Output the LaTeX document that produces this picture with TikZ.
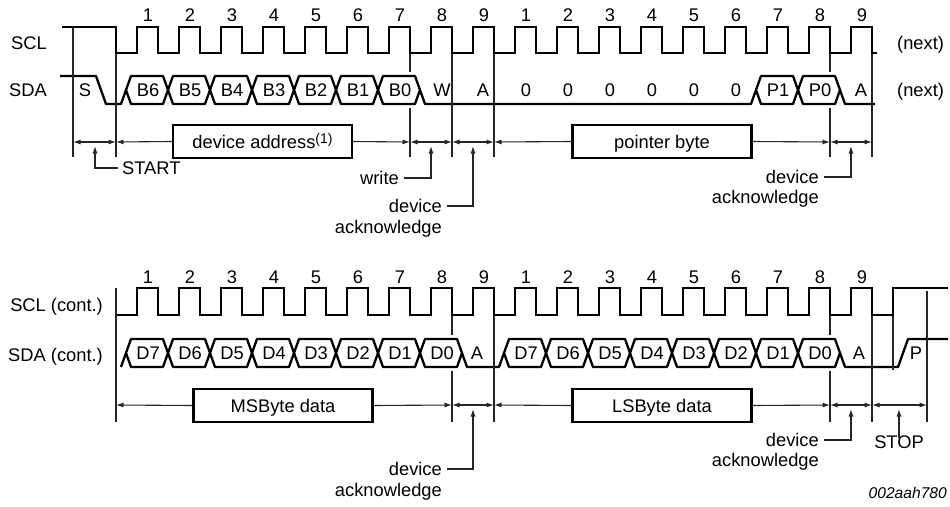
\documentclass[tikz,border=0pt]{standalone}
\usepackage{fontspec}
\setmainfont{Liberation Sans}
\usetikzlibrary{arrows.meta}
\begin{document}
\begin{tikzpicture}[x=1pt,y=-1pt,
  sig/.style={line width=2.3pt,line join=round},
  sclsig/.style={line width=2.3pt,line join=miter},
  tick/.style={line width=1.1pt,draw=black!85},
  arr/.style={line width=1.1pt,draw=black!85,-{Latex[length=7.5pt,width=5pt]}},
  darr/.style={line width=1.1pt,draw=black!85,{Latex[length=7.5pt,width=5pt]}-{Latex[length=7.5pt,width=5pt]}},
  lbl/.style={inner sep=0pt,text height=13pt,text depth=0pt,font=\fontsize{18.3}{22}\selectfont},
  boxn/.style={draw,line width=2.4pt,minimum width=179pt,minimum height=33pt,inner sep=0pt,
    text height=13pt,text depth=0pt,font=\fontsize{18.3}{22}\selectfont}
]
\useasboundingbox (0,0) rectangle (950,506);

% ---------- signal names ----------
\node[lbl,anchor=east] (lscl) at (47,43) {SCL};
\node[lbl,anchor=east] (lsda) at (47,90) {SDA};
\node[lbl,anchor=west] (nx1) at (897,43) {(next)};
\node[lbl,anchor=west] (nx2) at (897,90) {(next)};
\node[lbl,anchor=east] (lscl2) at (103,305) {SCL (cont.)};
\node[lbl,anchor=east] (lsda2) at (103,355) {SDA (cont.)};

% ---------- clock numbers ----------
\foreach \k in {0,...,17}{
  \pgfmathtruncatemacro\n{mod(\k,9)+1}
  \node[lbl] (ta\k) at ({148+42*\k},15) {\n};
  \node[lbl] (tb\k) at ({148+42*\k},277) {\n};
}

% ---------- SCL ----------
\draw[sclsig] (62,27) -- (116,27) -- (116,53)
  \foreach \k in {0,...,17}{ -- ({137+42*\k},53) -- ({137+42*\k},27) -- ({158+42*\k},27) -- ({158+42*\k},53)}
  -- (877,53);
\draw[sclsig] (116,315)
  \foreach \k in {0,...,17}{ -- ({137+42*\k},315) -- ({137+42*\k},288) -- ({158+42*\k},288) -- ({158+42*\k},315)}
  -- (893,315) -- (893,288) -- (948,288);

% ---------- SDA top ----------
\draw[sig] (60,76) -- (96,76) -- (106,104) -- (121,104) -- (126,90);
\draw[sig] (420,90) -- (425,104) -- (751,104) -- (756,90);
\draw[sig] (840,90) -- (845,104) -- (875,104);
\foreach \k/\t in {0/B6,1/B5,2/B4,3/B3,4/B2,5/B1,6/B0,15/P1,16/P0}{
  \draw[sig] ({126+42*\k},90) -- ({131+42*\k},76) -- ({163+42*\k},76) -- ({168+42*\k},90)
    -- ({163+42*\k},104) -- ({131+42*\k},104) -- cycle;
  \node[lbl] (da\k) at ({148+42*\k},90) {\t};
}
\node[lbl] (sS) at (85,90) {S};
\node[lbl] (sW) at (442,90) {W};
\node[lbl] (sA1) at (483,90) {A};
\foreach \j in {0,...,5}{ \node[lbl] (z\j) at ({526+42*\j},90) {0}; }
\node[lbl] (sA2) at (861,90) {A};

% ---------- SDA bottom ----------
\draw[sig] (121,367) -- (126,353);
\draw[sig] (462,353) -- (467,367) -- (499,367) -- (504,353);
\draw[sig] (840,353) -- (845,367) -- (898,367) -- (908,339) -- (948,339);
\foreach \k/\t in {0/D7,1/D6,2/D5,3/D4,4/D3,5/D2,6/D1,7/D0,9/D7,10/D6,11/D5,12/D4,13/D3,14/D2,15/D1,16/D0}{
  \draw[sig] ({126+42*\k},353) -- ({131+42*\k},339) -- ({163+42*\k},339) -- ({168+42*\k},353)
    -- ({163+42*\k},367) -- ({131+42*\k},367) -- cycle;
  \node[lbl] (db\k) at ({148+42*\k},353) {\t};
}
\node[lbl] (bA1) at (477,353) {A};
\node[lbl] (bA2) at (859,353) {A};
\node[lbl] (bP) at (916,353) {P};

% ---------- vertical reference lines (top) ----------
\draw[tick] (73,28) -- (73,157);
\draw[tick] (116,53) -- (116,157);
\draw[tick] (410,54) -- (410,72) (410,108) -- (410,157);
\draw[tick] (452,54) -- (452,157);
\draw[tick] (494,54) -- (494,157);
\draw[tick] (830,54) -- (830,72) (830,108) -- (830,157);
\draw[tick] (872,54) -- (872,157);

% ---------- vertical reference lines (bottom) ----------
\draw[tick] (116,288) -- (116,422);
\draw[tick] (452,316) -- (452,335) (452,371) -- (452,422);
\draw[tick] (494,316) -- (494,422);
\draw[tick] (830,316) -- (830,335) (830,371) -- (830,422);
\draw[tick] (872,316) -- (872,422);
\draw[tick] (893,316) -- (893,370);
\draw[tick] (927,291) -- (927,422);

% ---------- top annotations ----------
\node[boxn] (dabox) at (262.5,141.5) {device address\raisebox{5pt}{\fontsize{14}{14}\selectfont(1)}};
\node[boxn] (pbbox) at (662,141.5) {pointer byte};
\coordinate (t116) at (116,142);
\coordinate (t410) at (410,142);
\coordinate (t494) at (494,142);
\coordinate (t830) at (830,142);
\draw[darr] (73,142) -- (t116);
\draw[arr] (dabox.west) -- (t116);
\draw[arr] (dabox.east) -- (t410);
\draw[darr] (t410) -- (452,142);
\draw[darr] (452,142) -- (t494);
\draw[arr] (pbbox.west) -- (t494);
\draw[arr] (pbbox.east) -- (t830);
\draw[darr] (t830) -- (872,142);

\node[lbl,anchor=west] (lstart) at (122,168) {START};
\draw[arr] ([xshift=-4pt]lstart.west) -| (95,146);
\node[lbl,anchor=east] (lwrite) at (399,178) {write};
\draw[arr] ([xshift=5pt]lwrite.east) -| (431,146);
\node[lbl,anchor=east] (ldev1) at (442,206) {device};
\node[lbl,anchor=east] (lack1) at (442,227) {acknowledge};
\draw[arr] ([xshift=5pt]ldev1.east) -| (473,146);
\node[lbl,anchor=east] (ldev2) at (819,177) {device};
\node[lbl,anchor=east] (lack2) at (819,197) {acknowledge};
\draw[arr] ([xshift=5pt]ldev2.east) -| (851,146);

% ---------- bottom annotations ----------
\node[boxn] (msbox) at (283,405.5) {MSByte data};
\node[boxn] (lsbox) at (662,405.5) {LSByte data};
\coordinate (b116) at (116,405);
\coordinate (b452) at (452,405);
\coordinate (b494) at (494,405);
\coordinate (b830) at (830,405);
\coordinate (b872) at (872,405);
\coordinate (b927) at (927,405);
\draw[arr] (msbox.west) -- (b116);
\draw[arr] (msbox.east) -- (b452);
\draw[darr] (b452) -- (b494);
\draw[arr] (lsbox.west) -- (b494);
\draw[arr] (lsbox.east) -- (b830);
\draw[darr] (b830) -- (b872);
\draw[darr] (b872) -- (b927);

\node[lbl,anchor=east] (ldev3) at (442,469) {device};
\node[lbl,anchor=east] (lack3) at (442,490) {acknowledge};
\draw[arr] ([xshift=5pt]ldev3.east) -| (473,409);
\node[lbl,anchor=east] (ldev4) at (819,440) {device};
\node[lbl,anchor=east] (lack4) at (819,460) {acknowledge};
\draw[arr] ([xshift=5pt]ldev4.east) -| (851,409);
\node[lbl] (lstop) at (899,442) {STOP};
\draw[arr] ([yshift=-3pt]lstop.north) -- (899,409);

\node[inner sep=0pt,anchor=east,font=\fontsize{15.6}{18}\selectfont\itshape,text height=11pt,text depth=0pt] (code) at (947,493) {002aah780};
\end{tikzpicture}
\end{document}
